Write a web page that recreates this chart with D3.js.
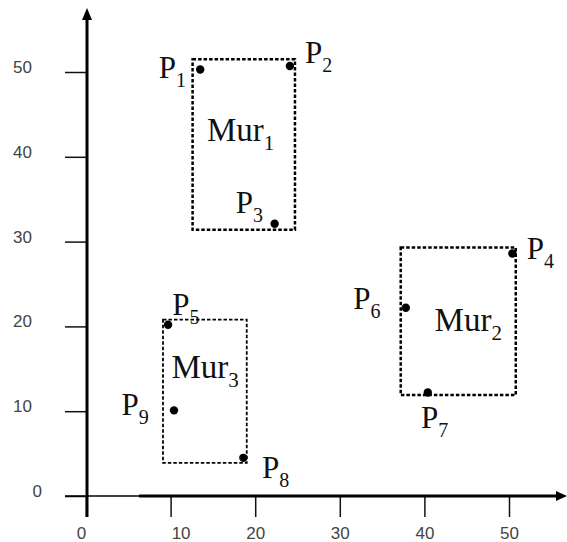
<!DOCTYPE html>
<html>
<head>
<meta charset="utf-8">
<script src="https://cdn.jsdelivr.net/npm/d3@7"></script>
<style>
  html, body { margin: 0; padding: 0; background: #fff; }
  svg { display: block; }
</style>
</head>
<body>
<svg id="chart" width="567" height="542"></svg>
<script>
// ---- data ----
const xTicks = [0, 10, 20, 30, 40, 50];
const yTicks = [0, 10, 20, 30, 40, 50];

const pointNames = ["1", "2", "3", "4", "5", "6", "7", "8", "9"];
const pointX = [13.5, 24.1, 22.3, 50.4, 9.7, 37.8, 40.4, 18.6, 10.4];
const pointY = [50.3, 50.7, 32.1, 28.6, 20.2, 22.2, 12.2, 4.5, 10.1];
// label anchor (left of "P", baseline) in data units
const pointLabelX = [8.6, 25.9, 17.7, 52.1, 10.2, 31.6, 39.6, 20.8, 4.2];
const pointLabelY = [49.3, 51.1, 33.4, 28.0, 21.3, 22.1, 8.0, 2.1, 9.5];

const murNames = ["1", "2", "3"];
const murX0 = [12.6, 37.2, 9.1];
const murX1 = [24.7, 50.8, 19.0];
const murY0 = [31.4, 11.9, 3.9];
const murY1 = [51.5, 29.3, 20.8];
const murLabelX = [14.3, 41.2, 10.1];
const murLabelY = [41.9, 19.5, 13.9];

// ---- drawing ----
const svg = d3.select("#chart");
const x = d3.scaleLinear().domain([0, 50]).range([86, 509]);
const y = d3.scaleLinear().domain([0, 50]).range([496, 72]);

const tickFont = "Arial, 'Liberation Sans', sans-serif";
const serif = "'Liberation Serif', 'Times New Roman', serif";

// X axis ticks + labels
const xAxis = svg.append("g")
  .attr("transform", `translate(0,${y(0)})`)
  .call(d3.axisBottom(x).tickValues(xTicks).tickSize(21).tickPadding(10).tickFormat(d3.format("d")));
xAxis.select(".domain").remove();
xAxis.selectAll(".tick line").attr("stroke", "#111").attr("stroke-width", 1.5);
xAxis.selectAll(".tick text")
  .attr("font-family", tickFont).attr("font-size", 17).attr("fill", "#444")
  .attr("dx", d => d === 0 ? -5 : (d === 10 ? 10 : 0));

// Y axis ticks + labels
const yAxis = svg.append("g")
  .attr("transform", `translate(${x(0) + 1},0)`)
  .call(d3.axisLeft(y).tickValues(yTicks).tickSize(22).tickPadding(33).tickFormat(d3.format("d")));
yAxis.select(".domain").remove();
yAxis.selectAll(".tick line").attr("stroke", "#111").attr("stroke-width", 1.5);
yAxis.selectAll(".tick text")
  .attr("font-family", tickFont).attr("font-size", 17).attr("fill", "#444")
  .attr("dy", "0.32em").attr("y", -5)
  .attr("dx", d => d === 0 ? 10 : 0);

// Axis lines with arrows
const ax = x(0) + 1, ay = y(0);
svg.append("line").attr("x1", ax).attr("y1", 517).attr("x2", ax).attr("y2", 18)
  .attr("stroke", "#000").attr("stroke-width", 3);
svg.append("path").attr("d", `M${ax},8 L${ax - 5},20 L${ax + 5},20 Z`).attr("fill", "#000");

svg.append("line").attr("x1", 65).attr("y1", ay).attr("x2", 139).attr("y2", ay)
  .attr("stroke", "#000").attr("stroke-width", 1.6);
svg.append("line").attr("x1", 139).attr("y1", ay).attr("x2", 558).attr("y2", ay)
  .attr("stroke", "#000").attr("stroke-width", 3);
svg.append("path").attr("d", `M567,${ay} L556,${ay - 5} L556,${ay + 5} Z`).attr("fill", "#000");

// Dashed rectangles
murNames.forEach((m, i) => {
  svg.append("rect")
    .attr("x", x(murX0[i])).attr("y", y(murY1[i]))
    .attr("width", x(murX1[i]) - x(murX0[i]))
    .attr("height", y(murY0[i]) - y(murY1[i]))
    .attr("fill", "none").attr("stroke", "#000")
    .attr("stroke-width", i === 2 ? 1.8 : 2.5)
    .attr("stroke-dasharray", "3.5,2");
});

// Points
svg.selectAll("circle.pt").data(pointNames).enter().append("circle")
  .attr("class", "pt")
  .attr("cx", (d, i) => x(pointX[i]))
  .attr("cy", (d, i) => y(pointY[i]))
  .attr("r", 4.2).attr("fill", "#000");

// Point labels
pointNames.forEach((n, i) => {
  const t = svg.append("text")
    .attr("x", x(pointLabelX[i])).attr("y", y(pointLabelY[i]))
    .attr("font-family", serif).attr("font-size", 31).attr("fill", "#111");
  t.append("tspan").text("P");
  t.append("tspan").attr("font-size", 20).attr("dy", 9).text(n);
});

// Mur labels
murNames.forEach((n, i) => {
  const t = svg.append("text")
    .attr("x", x(murLabelX[i])).attr("y", y(murLabelY[i]))
    .attr("font-family", serif).attr("font-size", 33).attr("fill", "#111");
  t.append("tspan").text("Mur");
  t.append("tspan").attr("font-size", 21).attr("dy", 9).text(n);
});
</script>
</body>
</html>
